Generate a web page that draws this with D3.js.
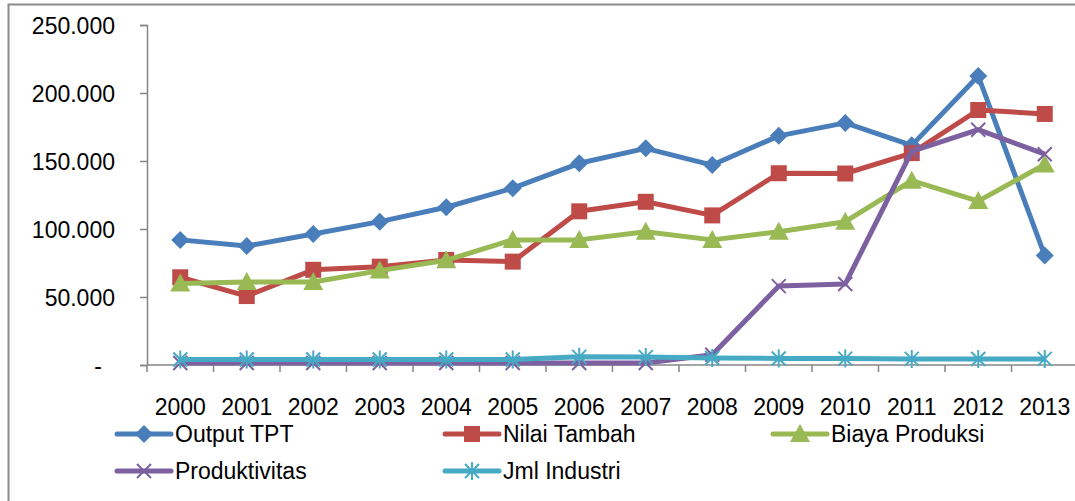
<!DOCTYPE html>
<html>
<head>
<meta charset="utf-8">
<script src="https://cdn.jsdelivr.net/npm/d3@7"></script>
<style>
  body { margin: 0; background: #fff; }
  text { font-family: "Liberation Sans", Arial, sans-serif; fill: #000; }
</style>
</head>
<body>
<div id="chart"></div>
<script>
var years = ["2000", "2001", "2002", "2003", "2004", "2005", "2006", "2007", "2008", "2009", "2010", "2011", "2012", "2013"];
var outputTPT = [92000, 87500, 96300, 105400, 116000, 130000, 148300, 159300, 147000, 168500, 178000, 161500, 212500, 80500];
var nilaiTambah = [64500, 50700, 70000, 72300, 77200, 76000, 113000, 120000, 110000, 141000, 140800, 155800, 187500, 184600];
var biayaProduksi = [60000, 61000, 61000, 69400, 77000, 92000, 92000, 98000, 92000, 98000, 105400, 135500, 120500, 147500];
var produktivitas = [1500, 1500, 1500, 1500, 1500, 1500, 1500, 1500, 7500, 58000, 59600, 157000, 173000, 155000];
var jmlIndustri = [4000, 4000, 4000, 4000, 4000, 4000, 6000, 5800, 5200, 4800, 4700, 4500, 4400, 4500];
var yTicks = [0, 50000, 100000, 150000, 200000, 250000];

var svgWidth = 1075;
var svgHeight = 501;

var series = [
  { name: "Output TPT", values: outputTPT, color: "#4A7EBB", marker: "diamond" },
  { name: "Nilai Tambah", values: nilaiTambah, color: "#BE4B48", marker: "square" },
  { name: "Biaya Produksi", values: biayaProduksi, color: "#98B954", marker: "triangle" },
  { name: "Produktivitas", values: produktivitas, color: "#7D60A0", marker: "x" },
  { name: "Jml Industri", values: jmlIndustri, color: "#46AAC5", marker: "star" }
];

var svg = d3.select("#chart")
  .append("svg")
  .attr("width", svgWidth)
  .attr("height", svgHeight);

// outer frame (only top and left edges are visible)
svg.append("path")
  .attr("d", "M8.5,501 V4.5 H1075")
  .attr("fill", "none")
  .attr("stroke", "#8c8c8c")
  .attr("stroke-width", 2);

var xScale = d3.scaleBand()
  .domain(years)
  .range([147, 147 + 14 * 66.5]);

var yScale = d3.scaleLinear()
  .domain([0, 250000])
  .range([365, 25]);

var fmt = function(d) {
  return d === 0 ? "-" : d3.format(",")(d).replace(/,/g, ".");
};

// y axis
var leftAxis = d3.axisLeft(yScale)
  .tickValues(yTicks)
  .tickSize(7)
  .tickPadding(25)
  .tickFormat(fmt);

var gy = svg.append("g")
  .attr("transform", "translate(147,0)")
  .call(leftAxis);
gy.select(".domain").attr("stroke", "#868686").attr("stroke-width", 1.5);
gy.selectAll(".tick line").attr("stroke", "#868686").attr("stroke-width", 1.5);
gy.selectAll(".tick text")
  .style("font-size", "23px")
  .attr("dy", "0.35em")
  .attr("dx", function(d) { return d === 0 ? -13 : 0; });

// x axis, ticks between categories
var gx = svg.append("g")
  .attr("transform", "translate(0,365)");
gx.append("line")
  .attr("x1", 147).attr("x2", svgWidth)
  .attr("stroke", "#868686").attr("stroke-width", 1.5);
gx.selectAll(".xt")
  .data(d3.range(15))
  .enter()
  .append("line")
  .attr("x1", function(i) { return 147 + i * xScale.step(); })
  .attr("x2", function(i) { return 147 + i * xScale.step(); })
  .attr("y1", 0).attr("y2", 7)
  .attr("stroke", "#868686").attr("stroke-width", 1.5);
gx.selectAll(".xl")
  .data(years)
  .enter()
  .append("text")
  .attr("x", function(d) { return xScale(d) + xScale.bandwidth() / 2; })
  .attr("y", 50)
  .attr("text-anchor", "middle")
  .style("font-size", "23px")
  .text(function(d) { return d; });

function markerPath(type) {
  if (type === "diamond") return "M0,-9L9,0L0,9L-9,0Z";
  if (type === "square") return "M-8,-8H8V8H-8Z";
  if (type === "triangle") return "M0,-10L10,8H-10Z";
  if (type === "x") return "M-7,-7L7,7M-7,7L7,-7";
  return "M-7,-7L7,7M-7,7L7,-7M0,-9L0,9";
}

function drawMarker(sel, s) {
  var filled = s.marker === "diamond" || s.marker === "square" || s.marker === "triangle";
  sel.append("path")
    .attr("d", markerPath(s.marker))
    .attr("fill", filled ? s.color : "none")
    .attr("stroke", s.color)
    .attr("stroke-width", filled ? 0 : 2);
}

var line = d3.line()
  .x(function(d, i) { return xScale(years[i]) + xScale.bandwidth() / 2; })
  .y(function(d) { return yScale(d); });

series.forEach(function(s) {
  var g = svg.append("g");
  g.append("path")
    .datum(s.values)
    .attr("d", line)
    .attr("fill", "none")
    .attr("stroke", s.color)
    .attr("stroke-width", 5)
    .attr("stroke-linejoin", "round");
  g.selectAll(".m")
    .data(s.values)
    .enter()
    .append("g")
    .attr("transform", function(d, i) {
      return "translate(" + (xScale(years[i]) + xScale.bandwidth() / 2) + "," + yScale(d) + ")";
    })
    .each(function() { drawMarker(d3.select(this), s); });
});

// legend
var legendPos = [
  { x: 117, y: 434 }, { x: 445, y: 434 }, { x: 773, y: 434 },
  { x: 117, y: 471 }, { x: 445, y: 471 }
];
series.forEach(function(s, i) {
  var p = legendPos[i];
  var lg = svg.append("g").attr("transform", "translate(" + p.x + "," + p.y + ")");
  lg.append("line")
    .attr("x1", 0).attr("x2", 54)
    .attr("stroke", s.color)
    .attr("stroke-width", 5)
    .attr("stroke-linecap", "round");
  var mg = lg.append("g").attr("transform", "translate(27,0)");
  drawMarker(mg, s);
  lg.append("text")
    .attr("x", 58)
    .attr("dy", "0.35em")
    .style("font-size", "23px")
    .text(s.name);
});
</script>
</body>
</html>
